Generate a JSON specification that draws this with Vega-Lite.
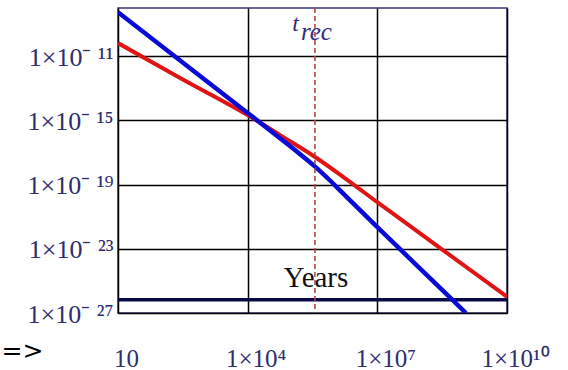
{
  "$schema": "https://vega.github.io/schema/vega-lite/v6.json",
  "autosize": {"type": "none"},
  "padding": {"left": 118, "top": 8, "right": 61, "bottom": 57},
  "width": 389,
  "height": 305,
  "background": "white",
  "config": {
    "view": {"stroke": "#3a3a78", "strokeWidth": 1.5},
    "font": "Liberation Serif"
  },
  "layer": [
    {
      "data": {"values": [{"y": 6.8e-27}]},
      "mark": {"type": "rule", "color": "#0a0a4a", "strokeWidth": 3.5},
      "encoding": {
        "y": {"field": "y", "type": "quantitative", "scale": {"type": "log", "domain": [1e-27, 1e-8]}}
      }
    },
    {
      "data": {"values": [
        {"x": 10, "y": 6.5e-11},
        {"x": 316, "y": 3.55e-13},
        {"x": 10000, "y": 2.14e-15},
        {"x": 63100, "y": 1.0e-16},
        {"x": 363000, "y": 5.25e-18},
        {"x": 1585000, "y": 3.16e-19},
        {"x": 10500000, "y": 7.2e-21},
        {"x": 280000000, "y": 1.15e-23},
        {"x": 10000000000, "y": 1.02e-26}
      ]},
      "mark": {"type": "line", "color": "#e01414", "strokeWidth": 4, "clip": true, "interpolate": "monotone"},
      "encoding": {
        "x": {
          "field": "x", "type": "quantitative",
          "scale": {"type": "log", "domain": [10, 10000000000]},
          "axis": {
            "values": [10, 10000, 10000000, 10000000000],
            "labelExpr": "datum.value < 100 ? '10' : datum.value < 100000 ? '1×10⁴' : datum.value < 100000000 ? '1×10⁷' : '1×10¹⁰'",
            "grid": true, "gridColor": "#000000", "gridWidth": 1.5,
            "ticks": false, "domain": false,
            "labelFont": "Liberation Serif", "labelFontSize": 25, "labelColor": "#2e2e6e",
            "labelBaseline": "alphabetic", "labelPadding": 53, "labelOffset": 8,
            "labelFlush": false, "labelOverlap": false,
            "title": "=>", "titleFont": "DejaVu Sans", "titleFontSize": 25, "titleFontWeight": "normal",
            "titleColor": "#000000", "titleX": -96, "titleY": 37, "titleAlign": "center",
            "titleBaseline": "middle", "titleAnchor": null
          }
        },
        "y": {
          "field": "y", "type": "quantitative",
          "scale": {"type": "log", "domain": [1e-27, 1e-8]},
          "axis": {
            "values": [1e-27, 1e-23, 1e-19, 1e-15, 1e-11],
            "labelExpr": "datum.value < 1e-26 ? '1×10⁻ ²⁷' : datum.value < 1e-22 ? '1×10⁻ ²³' : datum.value < 1e-18 ? '1×10⁻ ¹⁹' : datum.value < 1e-14 ? '1×10⁻ ¹⁵' : '1×10⁻ ¹¹'",
            "grid": true, "gridColor": "#000000", "gridWidth": 1.5,
            "ticks": false, "domain": false,
            "labelFont": "Liberation Serif", "labelFontSize": 26, "labelColor": "#2e2e6e",
            "labelBaseline": "middle", "labelPadding": 5, "labelOffset": 1,
            "labelFlush": false, "labelOverlap": false,
            "title": null
          }
        }
      }
    },
    {
      "data": {"values": [
        {"x": 10, "y": 5.5e-9},
        {"x": 10000, "y": 2.9e-15},
        {"x": 63100, "y": 6.0e-17},
        {"x": 158500, "y": 8.3e-18},
        {"x": 363000, "y": 1.32e-18},
        {"x": 794000, "y": 1.86e-19},
        {"x": 1585000, "y": 2.95e-20},
        {"x": 10000000, "y": 2.24e-22},
        {"x": 540000000, "y": 6.8e-27},
        {"x": 1120000000, "y": 1e-27}
      ]},
      "mark": {"type": "line", "color": "#0a0ad8", "strokeWidth": 4.5, "clip": true, "interpolate": "monotone"},
      "encoding": {
        "x": {"field": "x", "type": "quantitative"},
        "y": {"field": "y", "type": "quantitative"}
      }
    },
    {
      "data": {"values": [{"x": 380000, "y": 4.4e-26, "label": "Years"}]},
      "mark": {"type": "text", "font": "Liberation Serif", "fontSize": 29, "color": "#111111", "align": "center", "baseline": "alphabetic"},
      "encoding": {
        "x": {"field": "x", "type": "quantitative"},
        "y": {"field": "y", "type": "quantitative"},
        "text": {"field": "label"}
      }
    },
    {
      "data": {"values": [{"x": 360000, "y": 3.6e-10, "label": "t"}]},
      "mark": {"type": "text", "font": "Liberation Serif", "fontStyle": "italic", "fontSize": 24, "color": "#2e2e80", "align": "right", "baseline": "alphabetic", "dx": -16},
      "encoding": {
        "x": {"field": "x", "type": "quantitative"},
        "y": {"field": "y", "type": "quantitative"},
        "text": {"field": "label"}
      }
    },
    {
      "data": {"values": [{"x": 360000, "y": 1e-10, "label": "rec"}]},
      "mark": {"type": "text", "font": "Liberation Serif", "fontStyle": "italic", "fontSize": 25, "color": "#2e2e80", "align": "left", "baseline": "alphabetic", "dx": -14},
      "encoding": {
        "x": {"field": "x", "type": "quantitative"},
        "y": {"field": "y", "type": "quantitative"},
        "text": {"field": "label"}
      }
    },
    {
      "data": {"values": [{"x": 360000}]},
      "mark": {"type": "rule", "color": "#b04040", "strokeWidth": 1.5, "strokeDash": [5, 3]},
      "encoding": {
        "x": {"field": "x", "type": "quantitative"}
      }
    }
  ]
}
